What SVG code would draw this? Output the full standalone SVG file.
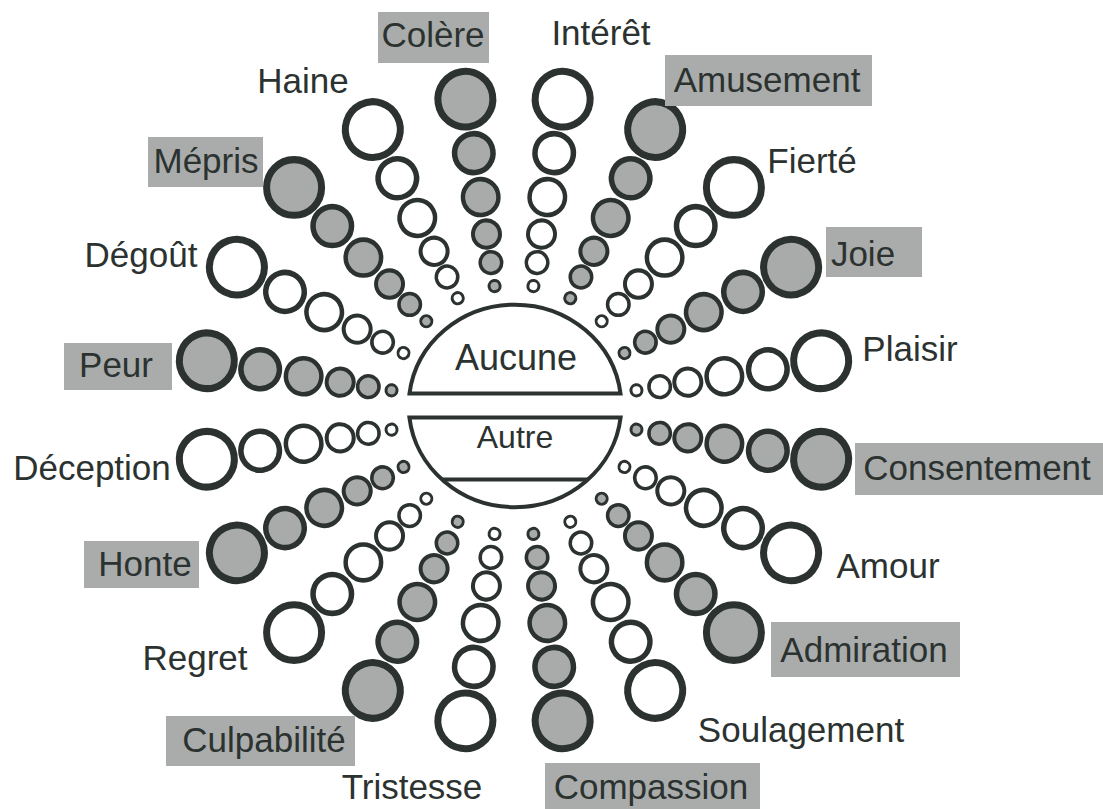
<svg xmlns="http://www.w3.org/2000/svg" xmlns:xlink="http://www.w3.org/1999/xlink" width="1103" height="809" viewBox="0 0 1103 809">
<style>
  .sp circle{stroke:#2b3230}
  .gf{fill:#a8abaa}
  .go{fill:#ffffff}
  .box{fill:#a9acab}
  text{font-family:"Liberation Sans",Arial,Helvetica,sans-serif;font-size:35px;fill:#2b3230;text-anchor:middle}
  .core{fill:#ffffff;stroke:#2b3230;stroke-width:4}
</style>
<defs>
  <g id="sp" class="sp">
    <circle cx="0" cy="-124" r="5.5" stroke-width="3"/>
    <circle cx="0" cy="-147.5" r="10.75" stroke-width="3.5"/>
    <circle cx="0" cy="-176" r="13.5" stroke-width="4"/>
    <circle cx="0" cy="-213" r="17.75" stroke-width="4.5"/>
    <circle cx="0" cy="-257" r="19.25" stroke-width="5.5"/>
    <circle cx="0" cy="-311" r="27.5" stroke-width="7"/>
  </g>
</defs>
<rect width="1103" height="809" fill="#ffffff"/>

<g id="center">
  <path class="core" d="M409.5 393.5 A106.3 101.25 0 0 1 620.5 393.5 Z"/>
  <path class="core" d="M409.4 417.5 L620.6 417.5 A106.3 101.25 0 0 1 409.4 417.5 Z"/>
  <line x1="442" y1="479.5" x2="588" y2="479.5" stroke="#2b3230" stroke-width="4"/>
  <text x="516" y="370" style="font-size:36px">Aucune</text>
  <text x="515" y="448" style="font-size:32px">Autre</text>
</g>

<g id="interet"><use xlink:href="#sp" class="go" transform="translate(514 410) scale(1 1.012) rotate(9)"/><text x="601" y="45">Intérêt</text></g>
<g id="amusement"><use xlink:href="#sp" class="gf" transform="translate(514 410) scale(1 1.012) rotate(27)"/><rect class="box" x="665" y="55" width="207" height="51"/><text x="767" y="92">Amusement</text></g>
<g id="fierte"><use xlink:href="#sp" class="go" transform="translate(514 410) scale(1 1.012) rotate(45)"/><text x="812" y="173">Fierté</text></g>
<g id="joie"><use xlink:href="#sp" class="gf" transform="translate(514 410) scale(1 1.012) rotate(63)"/><rect class="box" x="826" y="227" width="96" height="50"/><text x="863" y="266">Joie</text></g>
<g id="plaisir"><use xlink:href="#sp" class="go" transform="translate(514 410) scale(1 1.012) rotate(81)"/><text x="910" y="361">Plaisir</text></g>
<g id="consentement"><use xlink:href="#sp" class="gf" transform="translate(514 410) scale(1 1.012) rotate(99)"/><rect class="box" x="855" y="443" width="248" height="52"/><text x="977" y="480">Consentement</text></g>
<g id="amour"><use xlink:href="#sp" class="go" transform="translate(514 410) scale(1 1.012) rotate(117)"/><text x="888" y="578">Amour</text></g>
<g id="admiration"><use xlink:href="#sp" class="gf" transform="translate(514 410) scale(1 1.012) rotate(135)"/><rect class="box" x="771" y="622" width="189" height="55"/><text x="864" y="662">Admiration</text></g>
<g id="soulagement"><use xlink:href="#sp" class="go" transform="translate(514 410) scale(1 1.012) rotate(153)"/><text x="801" y="742">Soulagement</text></g>
<g id="compassion"><use xlink:href="#sp" class="gf" transform="translate(514 410) scale(1 1.012) rotate(171)"/><rect class="box" x="545" y="763" width="215" height="46"/><text x="651" y="799">Compassion</text></g>
<g id="tristesse"><use xlink:href="#sp" class="go" transform="translate(514 410) scale(1 1.012) rotate(189)"/><text x="412" y="799">Tristesse</text></g>
<g id="culpabilite"><use xlink:href="#sp" class="gf" transform="translate(514 410) scale(1 1.012) rotate(207)"/><rect class="box" x="166" y="716" width="189" height="50"/><text x="264" y="752">Culpabilité</text></g>
<g id="regret"><use xlink:href="#sp" class="go" transform="translate(514 410) scale(1 1.012) rotate(225)"/><text x="195" y="670">Regret</text></g>
<g id="honte"><use xlink:href="#sp" class="gf" transform="translate(514 410) scale(1 1.012) rotate(243)"/><rect class="box" x="84" y="541" width="115" height="47"/><text x="145" y="576">Honte</text></g>
<g id="deception"><use xlink:href="#sp" class="go" transform="translate(514 410) scale(1 1.012) rotate(261)"/><text x="92" y="480">Déception</text></g>
<g id="peur"><use xlink:href="#sp" class="gf" transform="translate(514 410) scale(1 1.012) rotate(279)"/><rect class="box" x="64" y="343" width="108" height="47"/><text x="116" y="377">Peur</text></g>
<g id="degout"><use xlink:href="#sp" class="go" transform="translate(514 410) scale(1 1.012) rotate(297)"/><text x="141" y="267">Dégoût</text></g>
<g id="mepris"><use xlink:href="#sp" class="gf" transform="translate(514 410) scale(1 1.012) rotate(315)"/><rect class="box" x="148" y="137" width="115" height="50"/><text x="206" y="173">Mépris</text></g>
<g id="haine"><use xlink:href="#sp" class="go" transform="translate(514 410) scale(1 1.012) rotate(333)"/><text x="303" y="93">Haine</text></g>
<g id="colere"><use xlink:href="#sp" class="gf" transform="translate(514 410) scale(1 1.012) rotate(351)"/><rect class="box" x="378" y="12" width="111" height="51"/><text x="433" y="47">Colère</text></g>
</svg>
